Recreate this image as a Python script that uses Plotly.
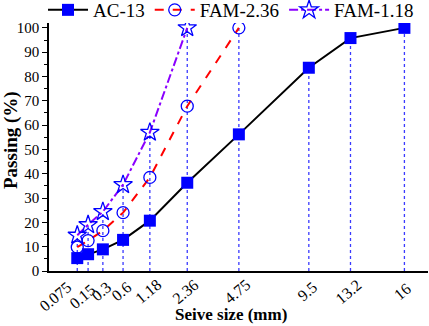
import plotly.graph_objects as go

# ---- data ----
sieve_labels = ["0.075", "0.15", "0.3", "0.6", "1.18", "2.36", "4.75", "9.5", "13.2", "16"]
# sieve size used for axis placement (the last one sits where the 19 mm sieve would be)
sieve_axis_mm = [0.075, 0.15, 0.3, 0.6, 1.18, 2.36, 4.75, 9.5, 13.2, 19.0]
ac13 = [5.3, 6.9, 8.9, 12.8, 20.7, 36.3, 56.2, 83.6, 95.8, 100]
fam236 = [9.8, 12.5, 16.6, 24.0, 38.5, 67.8, 100]
fam118 = [14.7, 19.0, 24.4, 35.5, 57.0, 100]

EXP = 0.45
xpos = [s ** EXP for s in sieve_axis_mm]

# small manual label nudges (pixels) for crowded tick labels
label_dx = {"0.075": -20, "0.15": -4}
label_dy = {"0.075": -5, "0.15": -5}

FONT = "Liberation Serif, Times New Roman, serif"
fig = go.Figure()

# vertical dotted guide lines from the highest point at each sieve down to 0
all_series = [ac13, fam236, fam118]
gx, gy = [], []
for i, x in enumerate(xpos):
    top = max(s[i] for s in all_series if i < len(s))
    gx += [x, x, None]
    gy += [0, top, None]
fig.add_trace(go.Scatter(x=gx, y=gy, mode="lines", showlegend=False, hoverinfo="skip",
                         line=dict(color="#3a3aff", width=1.3, dash="dot")))

fig.add_trace(go.Scatter(x=xpos[:len(ac13)], y=ac13, name="AC-13", mode="lines+markers",
                         line=dict(color="black", width=2),
                         marker=dict(symbol="square", size=12, color="#0000ff")))
fig.add_trace(go.Scatter(x=xpos[:len(fam236)], y=fam236, name="FAM-2.36", mode="lines+markers",
                         line=dict(color="#ff0000", width=2, dash="dash"),
                         marker=dict(symbol="circle-open", size=12, color="#0000ff", line=dict(width=1.3))))
fig.add_trace(go.Scatter(x=xpos[:len(fam118)], y=fam118, name="FAM-1.18", mode="lines+markers",
                         line=dict(color="#8a00ff", width=2, dash="dashdot"),
                         marker=dict(symbol="star-open", size=14, color="#0000ff", line=dict(width=1.3))))

annotations = []
for x, lab in zip(xpos, sieve_labels):
    annotations.append(dict(x=x, y=0, xref="x", yref="paper", text=lab, showarrow=False,
                            textangle=-40, xanchor="center", yanchor="middle",
                            xshift=-2 + label_dx.get(lab, 0), yshift=-20 + label_dy.get(lab, 0),
                            font=dict(size=16, family=FONT, color="black")))
annotations.append(dict(x=231, y=314, xref="paper", yref="paper", text="<b>Seive size (mm)</b>",
                        showarrow=False, font=dict(size=17, family=FONT, color="black")))
annotations.append(dict(x=11, y=140, xref="paper", yref="paper", text="<b>Passing (%)</b>",
                        showarrow=False, textangle=-90, font=dict(size=19, family=FONT, color="black")))

# convert the two title positions from pixels to paper coordinates
W, H = 429, 326
L, R, T, B = 49, 1, 23, 55
pw, ph = W - L - R, H - T - B
for a in annotations[-2:]:
    a["x"] = (a["x"] - L) / pw
    a["y"] = (H - B - a["y"]) / ph
    a["xanchor"] = "center"
    a["yanchor"] = "middle"

fig.update_layout(
    width=W, height=H,
    margin=dict(l=L, r=R, t=T, b=B, autoexpand=False),
    paper_bgcolor="white", plot_bgcolor="white",
    font=dict(family=FONT, size=15, color="black"),
    showlegend=True,
    legend=dict(orientation="h", x=(43 - L) / pw, xanchor="left", y=1 + (T - 10) / ph, yanchor="middle",
                font=dict(size=19), itemwidth=40, tracegroupgap=0,
                bgcolor="rgba(0,0,0,0)"),
    xaxis=dict(range=[0.0135, 4.011], tickvals=xpos, showticklabels=False,
               showgrid=False, zeroline=False, showline=True, linecolor="black", linewidth=1.5,
               ticks="", automargin=False),
    yaxis=dict(range=[0, 102], tickvals=list(range(0, 101, 10)), showgrid=False, zeroline=False,
               showline=True, linecolor="black", linewidth=1.5, ticks="outside", ticklen=5,
               tickwidth=1.2, tickcolor="black", tickfont=dict(size=15), automargin=False,
               minor=dict(tickvals=list(range(5, 101, 10)), ticks="outside", ticklen=3, tickcolor="black")),
    annotations=annotations,
)

fig.write_html("out.html", config={"displayModeBar": False},
               post_script="document.body.style.margin='0';")
